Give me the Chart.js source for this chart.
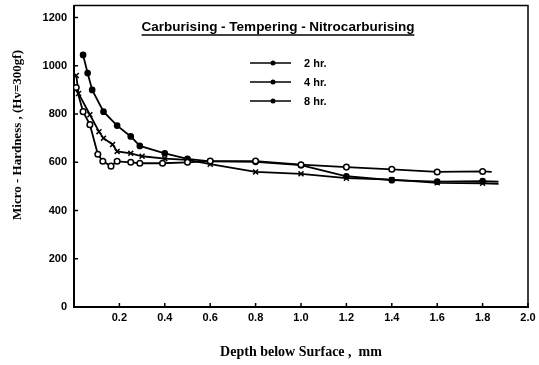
<!DOCTYPE html>
<html>
<head>
<meta charset="utf-8">
<script src="https://cdn.jsdelivr.net/npm/chart.js@4.4.1/dist/chart.umd.min.js"></script>
<style>
  html, body { margin: 0; padding: 0; background: #fff; }
  #wrap { width: 539px; height: 365px; }
</style>
</head>
<body>
<div id="wrap"><canvas id="chart"></canvas></div>
<script>
// depth (mm) and micro-hardness (Hv)
const depth2 = [0.01, 0.04, 0.07, 0.105, 0.127, 0.163, 0.19, 0.25, 0.29, 0.39, 0.5, 0.6, 0.8, 1.0, 1.2, 1.4, 1.6, 1.8, 1.84];
const hv2 = [910, 810, 756, 633, 604, 584, 604, 600, 596, 596, 600, 605, 605, 590, 580, 571, 560, 562, 560];

const depth4 = [0.01, 0.02, 0.07, 0.11, 0.13, 0.17, 0.19, 0.25, 0.3, 0.4, 0.5, 0.6, 0.8, 1.0, 1.2, 1.4, 1.6, 1.8, 1.87];
const hv4 = [960, 885, 797, 727, 700, 674, 645, 637, 625, 615, 610, 592, 560, 552, 534, 528, 515, 513, 511];

const depth8 = [0.04, 0.06, 0.08, 0.13, 0.19, 0.25, 0.29, 0.4, 0.5, 0.6, 0.8, 1.0, 1.2, 1.4, 1.6, 1.8, 1.87];
const hv8 = [1045, 970, 900, 810, 752, 707, 668, 637, 614, 604, 602, 588, 542, 526, 520, 522, 520];

const seriesLabels = ['2 hr.', '4 hr.', '8 hr.'];
const xTicks = [0, 0.2, 0.4, 0.6, 0.8, 1.0, 1.2, 1.4, 1.6, 1.8, 2.0];
const yTicks = [0, 200, 400, 600, 800, 1000, 1200];
const chartTitle = 'Carburising - Tempering - Nitrocarburising';
const xTitle = 'Depth below Surface ,  mm';
const yTitle = 'Micro - Hardness , (Hv=300gf)';

function toPoints(xs, ys) {
  return xs.map((x, i) => ({ x: x, y: ys[i] }));
}

// hide the marker on the last point (line runs a bit past the last reading)
function lastNoMarker(r) {
  return function (ctx) {
    return ctx.dataIndex === ctx.dataset.data.length - 1 ? 0 : r;
  };
}

const decor = {
  id: 'decor',
  afterDraw(chart) {
    const ctx = chart.ctx;
    const a = chart.chartArea;
    const xs = chart.scales.x, ys = chart.scales.y;
    ctx.save();
    ctx.strokeStyle = '#000';
    // top and right frame
    ctx.lineWidth = 1.5;
    ctx.beginPath();
    ctx.moveTo(a.left, a.top);
    ctx.lineTo(a.right, a.top);
    ctx.lineTo(a.right, a.bottom);
    ctx.stroke();
    // inward tick marks
    ctx.beginPath();
    xTicks.forEach(v => {
      const px = xs.getPixelForValue(v);
      ctx.moveTo(px, a.bottom);
      ctx.lineTo(px, a.bottom - 4);
    });
    yTicks.forEach(v => {
      const py = ys.getPixelForValue(v);
      ctx.moveTo(a.left, py);
      ctx.lineTo(a.left + 4, py);
    });
    ctx.stroke();

    // title, underlined
    ctx.fillStyle = '#000';
    ctx.font = 'bold 13.5px "Liberation Sans", Arial, sans-serif';
    ctx.textAlign = 'center';
    ctx.textBaseline = 'middle';
    const tx = 278, ty = 27;
    ctx.fillText(chartTitle, tx, ty);
    const w = ctx.measureText(chartTitle).width;
    ctx.lineWidth = 1.5;
    ctx.beginPath();
    ctx.moveTo(tx - w / 2, ty + 8);
    ctx.lineTo(tx + w / 2, ty + 8);
    ctx.stroke();

    // legend
    const rows = [63, 82, 101];
    chart.data.datasets.forEach((ds, i) => {
      const y = rows[i];
      ctx.lineWidth = 1.5;
      ctx.beginPath();
      ctx.moveTo(250, y);
      ctx.lineTo(291, y);
      ctx.stroke();
      ctx.beginPath();
      ctx.arc(273, y, 2.5, 0, Math.PI * 2);
      ctx.fill();
      ctx.font = 'bold 11px "Liberation Sans", Arial, sans-serif';
      ctx.textAlign = 'left';
      ctx.fillText(ds.label, 304, y + 1);
    });

    // y axis title
    ctx.font = 'bold 13px "Liberation Serif", "DejaVu Serif", serif';
    ctx.textAlign = 'center';
    ctx.translate(18, 135);
    ctx.rotate(-Math.PI / 2);
    ctx.fillText(yTitle, 0, 0);
    ctx.restore();
  }
};

const lineStyle = { borderColor: '#000', borderWidth: 1.8, tension: 0, fill: false, pointBorderColor: '#000', pointBorderWidth: 1.5 };

new Chart(document.getElementById('chart'), {
  type: 'scatter',
  data: {
    datasets: [
      Object.assign({ label: seriesLabels[0], data: toPoints(depth2, hv2), showLine: true,
        pointStyle: 'circle', pointBackgroundColor: '#fff', pointRadius: lastNoMarker(2.8) }, lineStyle),
      Object.assign({ label: seriesLabels[1], data: toPoints(depth4, hv4), showLine: true,
        pointStyle: 'crossRot', pointBackgroundColor: '#000', pointRadius: lastNoMarker(3.5) }, lineStyle),
      Object.assign({ label: seriesLabels[2], data: toPoints(depth8, hv8), showLine: true,
        pointStyle: 'circle', pointBackgroundColor: '#000', pointRadius: lastNoMarker(2.6) }, lineStyle)
    ]
  },
  options: {
    responsive: true,
    maintainAspectRatio: false,
    animation: false,
    layout: { padding: { top: 0, right: 11, bottom: 4, left: 0 } },
    plugins: { legend: { display: false }, tooltip: { enabled: false } },
    scales: {
      x: {
        type: 'linear', min: 0, max: 2.0,
        afterBuildTicks(s) { s.ticks = xTicks.map(v => ({ value: v })); },
        afterFit(s) { s.height = 54; s.paddingLeft = 0; s.paddingRight = 0; },
        grid: { display: false, drawTicks: false },
        border: { display: true, color: '#000', width: 2 },
        ticks: {
          color: '#000', padding: 4,
          font: { family: '"Liberation Sans", Arial, sans-serif', size: 11, weight: 'bold' },
          callback: v => v === 0 ? '' : v.toFixed(1)
        },
        title: {
          display: true, text: xTitle, color: '#000', padding: { top: 14, bottom: 0 },
          font: { family: '"Liberation Serif", "DejaVu Serif", serif', size: 14, weight: 'bold' }
        }
      },
      y: {
        type: 'linear', min: 0, max: 1250,
        afterBuildTicks(s) { s.ticks = yTicks.map(v => ({ value: v })); },
        afterFit(s) { s.width = 74; s.paddingTop = 0; s.paddingBottom = 0; },
        grid: { display: false, drawTicks: false },
        border: { display: true, color: '#000', width: 2 },
        ticks: {
          color: '#000', padding: 7,
          font: { family: '"Liberation Sans", Arial, sans-serif', size: 11, weight: 'bold' },
          callback: v => String(v)
        }
      }
    }
  },
  plugins: [decor]
});
</script>
</body>
</html>
